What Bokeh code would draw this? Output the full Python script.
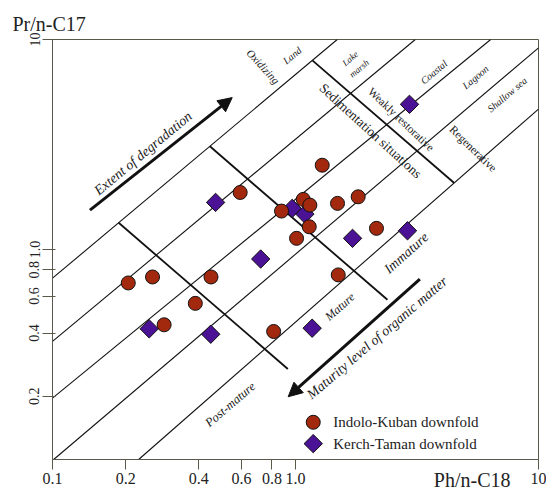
import math
from bokeh.plotting import figure
from bokeh.models import (FixedTicker, CustomJSTickFormatter, Title, Arrow,
                          NormalHead, ColumnDataSource)
from bokeh.core.properties import value
from bokeh.embed import file_html
from bokeh.resources import INLINE

# ---------------- data ----------------
# Indolo-Kuban downfold (circles): Ph/n-C18, Pr/n-C17
ik_ph = [0.205, 0.258, 0.449, 0.387, 0.288, 0.592, 0.876, 1.076, 1.146,
         1.139, 1.010, 1.288, 1.489, 1.811, 2.154, 1.499, 0.813]
ik_pr = [0.693, 0.740, 0.740, 0.554, 0.438, 1.869, 1.524, 1.732, 1.627,
         1.283, 1.130, 2.520, 1.658, 1.782, 1.261, 0.757, 0.407]

# Kerch-Taman downfold (diamonds)
kt_ph = [0.250, 0.448, 0.719, 0.469, 0.969, 1.093, 1.717, 2.890, 1.171, 2.945]
kt_pr = [0.419, 0.395, 0.901, 1.676, 1.569, 1.474, 1.130, 1.228, 0.422, 4.912]

series_names = ["Indolo-Kuban downfold", "Kerch-Taman downfold"]

x_ticks = [0.1, 0.2, 0.4, 0.6, 0.8, 1.0, 10]
y_ticks = [0.2, 0.4, 0.6, 0.8, 1.0, 10]

# diagonal guide lines: value of Pr/n-C17 at Ph/n-C18 = 0.1, and log-log slope
diag_y0 = [0.730, 0.365, 0.196, 0.0989, 0.0437]
diag_slope = [0.970, 0.963, 0.947, 0.9825, 1.014]

# perpendicular guide segments: x*y = const, starting on the first diagonal
perp_product = [0.251, 1.377, 9.33]
perp_x_end = [0.93, 2.39, 4.50]

# zone / annotation texts: text, x, y, angle(rad), size, style
zone_text = ["Extent of degradation", "Maturity level of organic matter",
             "Oxidizing", "Land", "Lake", "marsh", "Coastal", "Lagoon",
             "Shallow sea", "Weakly restorative", "Sedimentation situations",
             "Regenerative", "Immature", "Mature", "Post-mature"]
zone_x = [0.236, 2.169, 0.736, 0.969, 1.679, 1.828, 3.711, 5.505, 7.434,
          2.723, 2.037, 5.386, 2.855, 1.523, 0.5387]
zone_y = [2.873, 0.380, 7.44, 8.39, 8.12, 7.28, 6.995, 6.62, 5.47,
          4.169, 3.675, 3.026, 0.962, 0.534, 0.1825]
zone_angle = [0.693, 0.709, -0.83, 0.70, 0.70, 0.70, 0.70, 0.70, 0.70,
              -0.76, -0.74, -0.77, 0.73, 0.73, 0.707]
zone_size = ["14px", "14px", "11px", "10px", "9px", "9px", "10px", "10px",
             "10px", "11.5px", "13.5px", "11.5px", "14px", "12px", "12.5px"]
zone_style = ["italic", "italic", "italic", "italic", "italic", "italic",
              "italic", "italic", "italic", "normal", "normal", "normal",
              "italic", "italic", "italic"]

# arrows (tail -> head) in data space
arrow_x0 = [0.1426, 3.25]
arrow_y0 = [1.540, 0.722]
arrow_x1 = [0.549, 0.933]
arrow_y1 = [5.29, 0.199]

# legend key anchor (data space)
legend_x = 1.183
legend_text_x = 1.429
legend_y = [0.1504, 0.119]

FONT = "Liberation Serif"
RED = "#a3290e"
PURPLE = "#4b1296"
AX = "#5a5848"

p = figure(width=546, height=494, x_axis_type="log", y_axis_type="log",
           x_range=(0.1, 10), y_range=(0.1, 10),
           output_backend="svg", toolbar_location=None,
           min_border_left=52, min_border_right=8,
           min_border_top=39, min_border_bottom=35)
p.grid.visible = False
p.outline_line_color = AX
p.outline_line_width = 1
p.background_fill_color = "white"
p.border_fill_color = "white"

fmt = CustomJSTickFormatter(code="return tick >= 10 ? '10' : tick.toFixed(1);")
p.xaxis.ticker = FixedTicker(ticks=x_ticks)
p.yaxis.ticker = FixedTicker(ticks=y_ticks)
for ax in (p.xaxis[0], p.yaxis[0]):
    ax.formatter = fmt
    ax.axis_line_color = AX
    ax.major_tick_line_color = AX
    ax.minor_tick_line_color = None
    ax.major_label_text_font = FONT
    ax.major_label_text_color = "#222222"
p.xaxis.major_label_text_font_size = "16px"
p.yaxis.major_label_text_font_size = "14px"
p.xaxis.major_tick_out = 10
p.xaxis.major_tick_in = 0
p.xaxis.major_label_standoff = 3
p.yaxis.major_tick_out = 10
p.yaxis.major_tick_in = 3
p.yaxis.major_label_standoff = 3
p.yaxis.major_label_orientation = "vertical"

# axis titles as panel titles
t_top = Title(text="Pr/n-C17", align="left", offset=-40,
              text_font=FONT, text_font_size="20px", text_font_style="normal",
              text_color="#222222")
p.add_layout(t_top, "above")
t_bot = Title(text="Ph/n-C18", align="right", offset=28, vertical_align="top",
              text_font=FONT, text_font_size="20px", text_font_style="normal",
              text_color="#222222")
try:
    t_bot.standoff = -36
except Exception:
    pass
p.add_layout(t_bot, "below")

# diagonal lines
for y0, b in zip(diag_y0, diag_slope):
    xs, ys = 0.1, y0
    if ys < 0.1:
        xs = 0.1 * (0.1 / y0) ** (1 / b)
        ys = 0.1
    xe = 0.1 * (10 / y0) ** (1 / b)
    ye = 10.0
    if xe > 10:
        xe = 10.0
        ye = y0 * (100.0) ** b
    p.line([xs, xe], [ys, ye], line_color="#111111", line_width=1.1)

# perpendicular segments
ly0 = math.log10(diag_y0[0])
b0 = diag_slope[0]
for k, xend in zip(perp_product, perp_x_end):
    lx = (math.log10(k) - ly0 - b0) / (1 + b0)
    xs = 10 ** lx
    p.line([xs, xend], [k / xs, k / xend], line_color="#111111", line_width=1.8)

# arrows
for x0, y0, x1, y1 in zip(arrow_x0, arrow_y0, arrow_x1, arrow_y1):
    p.add_layout(Arrow(end=NormalHead(size=14, fill_color="#111111",
                                      line_color="#111111"),
                       x_start=x0, y_start=y0, x_end=x1, y_end=y1,
                       line_width=3, line_color="#111111"))

# zone texts
src = ColumnDataSource(dict(x=zone_x, y=zone_y, text=zone_text, angle=zone_angle,
                            size=zone_size, style=zone_style))
p.text(x="x", y="y", text="text", angle="angle", source=src,
       text_font=value(FONT), text_font_size="size", text_font_style="style",
       text_align="center", text_baseline="middle", text_color="#1a1a1a")

# data points
p.scatter(kt_ph, kt_pr, marker="square", angle=math.pi / 4, size=13,
          fill_color=PURPLE, line_color="#111111", line_width=1)
p.scatter(ik_ph, ik_pr, marker="circle", size=14,
          fill_color=RED, line_color="#111111", line_width=1)

# legend key
p.scatter([legend_x], [legend_y[0]], marker="circle", size=14,
          fill_color=RED, line_color="#111111", line_width=1)
p.scatter([legend_x], [legend_y[1]], marker="square", angle=math.pi / 4, size=13,
          fill_color=PURPLE, line_color="#111111", line_width=1)
p.text(x=[legend_text_x, legend_text_x], y=legend_y, text=series_names,
       text_font=value(FONT), text_font_size="15px", text_align="left",
       text_baseline="middle", text_color="#222222")

open("out.html", "w").write(file_html(p, INLINE))
